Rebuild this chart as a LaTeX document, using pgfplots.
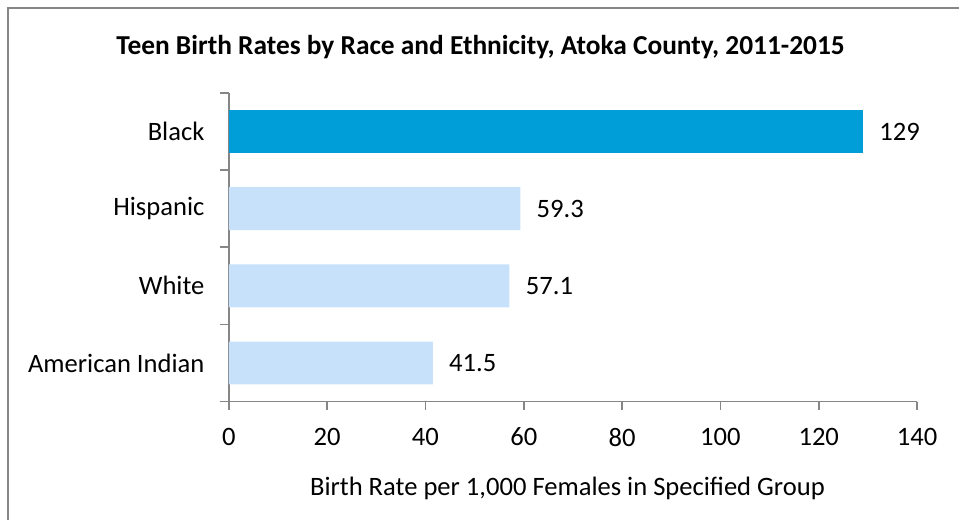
\documentclass[border=0pt]{standalone}
\usepackage{fontspec}
\setmainfont{Carlito}
\usepackage{pgfplots}
\pgfplotsset{compat=1.18}
\definecolor{darkbar}{RGB}{0,158,216}
\definecolor{lightbar}{RGB}{200,225,250}
\definecolor{axisgray}{RGB}{134,134,134}
\newcommand{\lab}{\fontsize{13.3}{16}\selectfont}

\begin{document}
\begin{tikzpicture}[x=1pt,y=1pt]
\lab
% page size: 960x521 px at 0.5pt per px
\path (0,0) rectangle (480,260.5);
\draw[axisgray,line width=1pt] (4,0) -- (4,256.5) -- (480,256.5);
\begin{axis}[
  at={(114.5pt,59.5pt)},anchor=south west,
  scale only axis,
  width=344.5pt,height=154.5pt,
  xbar,
  bar width=21.5pt,
  xmin=0,xmax=140,
  ymin=-0.5,ymax=3.5,
  xtick={0,20,...,140},
  ytick={0,1,2,3},
  yticklabels={American Indian,White,Hispanic,Black},
  minor ytick={-0.5,0.5,1.5,2.5,3.5},
  axis lines*=left,
  axis line style={axisgray,line width=0.9pt},
  tick align=outside,
  xtick pos=bottom, ytick pos=left,
  major tick length=4pt,
  minor tick length=4.5pt,
  xtick style={axisgray,line width=0.9pt},
  every major y tick/.append style={draw=none},
  every minor y tick/.append style={draw=axisgray,line width=0.9pt},
  /pgf/number format/assume math mode=true,
  tick label style={font=\lab},
  xticklabel style={anchor=north,inner sep=0pt,yshift=-9pt},
  yticklabel style={anchor=east,inner sep=0pt,xshift=-8pt},
  nodes near coords,
  nodes near coords style={anchor=west,inner sep=0pt,xshift=8pt,font=\lab,text=black},
  point meta=explicit symbolic,
]
  \addplot+[draw=none,fill=lightbar,bar shift=0pt] coordinates {(41.5,0) [41.5] (57.1,1) [57.1] (59.3,2) [59.3]};
  \addplot+[draw=none,fill=darkbar,bar shift=0pt] coordinates {(129,3) [129]};
\end{axis}
\node[font=\bfseries\fontsize{13.7}{16}\selectfont] at (240.5,237) {Teen Birth Rates by Race and Ethnicity, Atoka County, 2011-2015};
\node at (284,16) {Birth Rate per 1,000 Females in Specified Group};
\end{tikzpicture}
\end{document}
